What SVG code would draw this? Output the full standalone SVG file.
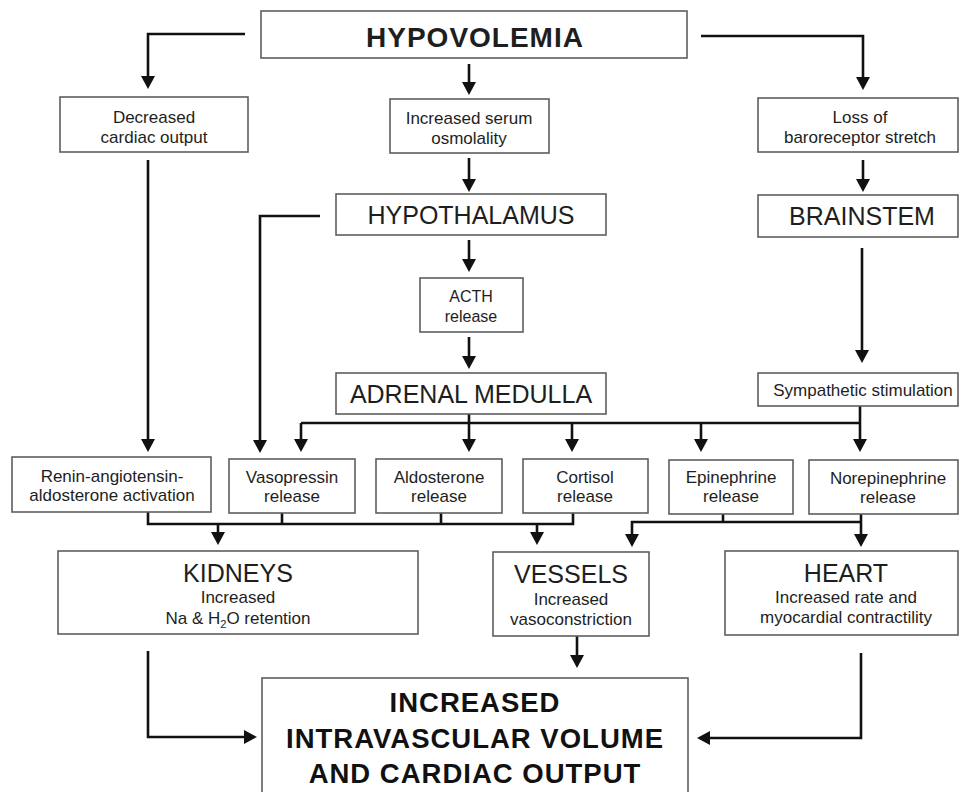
<svg xmlns="http://www.w3.org/2000/svg" width="961" height="792" viewBox="0 0 961 792">
<style>
  .box { fill: #fff; stroke: #5e5e5e; stroke-width: 1.6; }
  .t { font-family: "Liberation Sans", Arial, sans-serif; fill: #1e1e1e; text-anchor: middle; }
  .s { font-size: 17px; }
  .m { font-size: 25px; }
  .b { font-size: 28px; font-weight: bold; letter-spacing: 1px; }
  .big { font-size: 27.5px; font-weight: bold; letter-spacing: 1px; fill: #111; }
  .c { fill: none; stroke: #111; stroke-width: 2.6; }
  .a { marker-end: url(#ah); }
</style>
<defs>
  <marker id="ah" markerUnits="userSpaceOnUse" markerWidth="14" markerHeight="14" refX="9" refY="7" orient="auto">
    <path d="M0,0 L13,7 L0,14 z" fill="#111"/>
  </marker>
</defs>
<rect width="961" height="792" fill="#fff"/>

<g id="connectors">
  <path class="c a" d="M245,34 H148 V85"/>
  <path class="c a" d="M469,64 V91"/>
  <path class="c a" d="M701,36 H863 V86"/>
  <path class="c a" d="M148,160 V448"/>
  <path class="c a" d="M469,158 V188"/>
  <path class="c a" d="M320,216 H260 V449"/>
  <path class="c a" d="M469,240 V268"/>
  <path class="c a" d="M469,337 V365"/>
  <path class="c a" d="M863,160 V188"/>
  <path class="c a" d="M862,248 V359"/>
  <path class="c" d="M301,423 H860"/>
  <path class="c a" d="M301,423 V448"/>
  <path class="c a" d="M469,414 V448"/>
  <path class="c a" d="M572,423 V448"/>
  <path class="c a" d="M701,423 V448"/>
  <path class="c a" d="M860,406 V448"/>
  <path class="c" d="M148,512 V524 H573 V513"/>
  <path class="c" d="M282,513 V524"/>
  <path class="c" d="M441,513 V524"/>
  <path class="c a" d="M218,524 V541"/>
  <path class="c a" d="M537,524 V541"/>
  <path class="c" d="M723,514 V522"/>
  <path class="c a" d="M861,514 V543"/>
  <path class="c a" d="M861,522 H632 V543"/>
  <path class="c a" d="M148,651 V737 H253"/>
  <path class="c a" d="M577,636 V664"/>
  <path class="c a" d="M861,653 V738 H701"/>
</g>

<g id="hypovolemia">
  <rect class="box" x="261" y="11" width="426" height="47"/>
  <text class="t b" x="475" y="47">HYPOVOLEMIA</text>
</g>
<g id="decreased-cardiac-output">
  <rect class="box" x="60" y="97" width="188" height="55"/>
  <text class="t s" x="154" y="123">Decreased</text>
  <text class="t s" x="154" y="143">cardiac output</text>
</g>
<g id="increased-serum-osmolality">
  <rect class="box" x="390" y="99" width="159" height="54"/>
  <text class="t s" x="469" y="124">Increased serum</text>
  <text class="t s" x="469" y="144">osmolality</text>
</g>
<g id="loss-of-baroreceptor-stretch">
  <rect class="box" x="758" y="98" width="200" height="54"/>
  <text class="t s" x="860" y="123">Loss of</text>
  <text class="t s" x="860" y="143">baroreceptor stretch</text>
</g>
<g id="hypothalamus">
  <rect class="box" x="336" y="194" width="270" height="41"/>
  <text class="t m" x="471" y="224">HYPOTHALAMUS</text>
</g>
<g id="brainstem">
  <rect class="box" x="758" y="195" width="200" height="42"/>
  <text class="t m" x="862" y="225">BRAINSTEM</text>
</g>
<g id="acth-release">
  <rect class="box" x="420" y="278" width="103" height="54"/>
  <text class="t" x="471" y="302" font-size="16">ACTH</text>
  <text class="t" x="471" y="322" font-size="16">release</text>
</g>
<g id="adrenal-medulla">
  <rect class="box" x="336" y="373" width="270" height="41"/>
  <text class="t m" x="471" y="403">ADRENAL MEDULLA</text>
</g>
<g id="sympathetic-stimulation">
  <rect class="box" x="758" y="373" width="200" height="33"/>
  <text class="t s" x="863" y="396">Sympathetic stimulation</text>
</g>
<g id="renin">
  <rect class="box" x="12" y="457" width="199" height="55"/>
  <text class="t s" x="112" y="482">Renin-angiotensin-</text>
  <text class="t s" x="112" y="501">aldosterone activation</text>
</g>
<g id="vasopressin">
  <rect class="box" x="229" y="459" width="126" height="54"/>
  <text class="t s" x="292" y="483">Vasopressin</text>
  <text class="t s" x="292" y="502">release</text>
</g>
<g id="aldosterone">
  <rect class="box" x="376" y="459" width="126" height="54"/>
  <text class="t s" x="439" y="483">Aldosterone</text>
  <text class="t s" x="439" y="502">release</text>
</g>
<g id="cortisol">
  <rect class="box" x="523" y="459" width="125" height="54"/>
  <text class="t s" x="585" y="483">Cortisol</text>
  <text class="t s" x="585" y="502">release</text>
</g>
<g id="epinephrine">
  <rect class="box" x="669" y="460" width="124" height="54"/>
  <text class="t s" x="731" y="483">Epinephrine</text>
  <text class="t s" x="731" y="502">release</text>
</g>
<g id="norepinephrine">
  <rect class="box" x="809" y="460" width="149" height="54"/>
  <text class="t s" x="888" y="484">Norepinephrine</text>
  <text class="t s" x="888" y="503">release</text>
</g>
<g id="kidneys">
  <rect class="box" x="58" y="551" width="360" height="83"/>
  <text class="t m" x="238" y="582">KIDNEYS</text>
  <text class="t s" x="238" y="603">Increased</text>
  <text class="t s" x="238" y="624">Na &amp; H<tspan font-size="11" dy="4">2</tspan><tspan dy="-4">O retention</tspan></text>
</g>
<g id="vessels">
  <rect class="box" x="493" y="552" width="156" height="84"/>
  <text class="t m" x="571" y="583">VESSELS</text>
  <text class="t s" x="571" y="605">Increased</text>
  <text class="t s" x="571" y="625">vasoconstriction</text>
</g>
<g id="heart">
  <rect class="box" x="725" y="551" width="233" height="84"/>
  <text class="t m" x="846" y="582">HEART</text>
  <text class="t s" x="846" y="603">Increased rate and</text>
  <text class="t s" x="846" y="623">myocardial contractility</text>
</g>
<g id="increased-intravascular-volume">
  <rect class="box" x="262" y="678" width="426" height="130"/>
  <text class="t big" x="475" y="712">INCREASED</text>
  <text class="t big" x="475" y="748">INTRAVASCULAR VOLUME</text>
  <text class="t big" x="475" y="783">AND CARDIAC OUTPUT</text>
</g>
</svg>
